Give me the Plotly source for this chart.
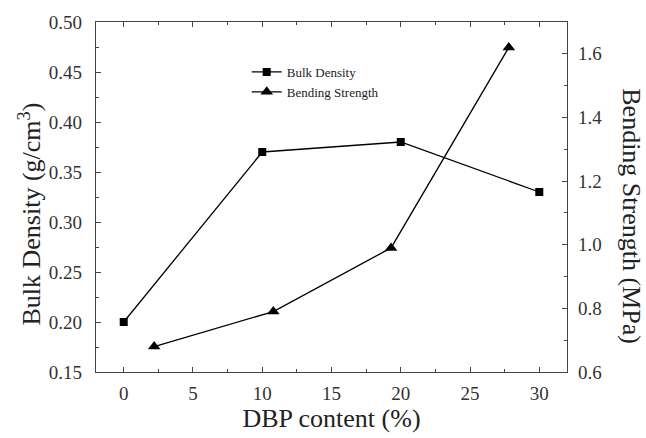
import plotly.graph_objects as go

dbp_density = [0, 10, 20, 30]
bulk_density = [0.20, 0.37, 0.38, 0.33]
dbp_strength = [2.2, 10.8, 19.3, 27.8]
bending_strength = [0.68, 0.79, 0.99, 1.62]

FONT = "Liberation Serif, Times New Roman, serif"

fig = go.Figure()
fig.add_trace(go.Scatter(
    x=dbp_density, y=bulk_density, name="Bulk Density", mode="lines+markers",
    line=dict(color="black", width=1.3),
    marker=dict(symbol="square", size=8, color="black"),
))
fig.add_trace(go.Scatter(
    x=dbp_strength, y=bending_strength, name="Bending Strength", mode="lines+markers",
    line=dict(color="black", width=1.3),
    marker=dict(symbol="triangle-up", size=11, color="black"),
    yaxis="y2",
))

axis_common = dict(
    showline=True, linecolor="#444", linewidth=1.3, ticks="inside", ticklen=5,
    tickcolor="#444", showgrid=False, zeroline=False,
    tickfont=dict(family=FONT, size=19, color="#333"),
)

fig.update_layout(
    width=646, height=438,
    margin=dict(l=96, r=79, t=22, b=66),
    plot_bgcolor="white", paper_bgcolor="white",
    font=dict(family=FONT, color="#222"),
    showlegend=True,
    legend=dict(x=0.32, y=0.9, xanchor="left", yanchor="top",
                font=dict(family=FONT, size=13, color="#222"),
                bgcolor="rgba(0,0,0,0)", tracegroupgap=0, itemwidth=30),
    xaxis=dict(range=[-2, 32], tickvals=[0, 5, 10, 15, 20, 25, 30], mirror="ticks",
               minor=dict(dtick=2.5, ticks="inside", ticklen=3, tickcolor="#444"),
               ticklabelstandoff=4,
               title=dict(text="DBP content (%)", font=dict(family=FONT, size=26, color="#222"), standoff=4),
               **axis_common),
    yaxis=dict(range=[0.15, 0.50], tickvals=[0.15, 0.20, 0.25, 0.30, 0.35, 0.40, 0.45, 0.50],
               tickformat=".2f", ticklabelstandoff=9,
               minor=dict(dtick=0.025, ticks="inside", ticklen=3, tickcolor="#444"),
               **axis_common),
    yaxis2=dict(range=[0.6, 1.7], overlaying="y", side="right",
                tickvals=[0.6, 0.8, 1.0, 1.2, 1.4, 1.6], tickformat=".1f", ticklabelstandoff=6,
                minor=dict(dtick=0.1, ticks="inside", ticklen=3, tickcolor="#444"),
                **axis_common),
)

fig.add_annotation(text="Bulk Density (g/cm<sup>3</sup>)", xref="paper", yref="paper",
                   x=-0.14, y=0.45, xanchor="center", yanchor="middle", textangle=-90, showarrow=False,
                   font=dict(family=FONT, size=26, color="#222"))
fig.add_annotation(text="Bending Strength (MPa)", xref="paper", yref="paper",
                   x=1.138, y=0.445, xanchor="center", yanchor="middle", textangle=90, showarrow=False,
                   font=dict(family=FONT, size=26, color="#222"))

fig.write_html("out.html")
